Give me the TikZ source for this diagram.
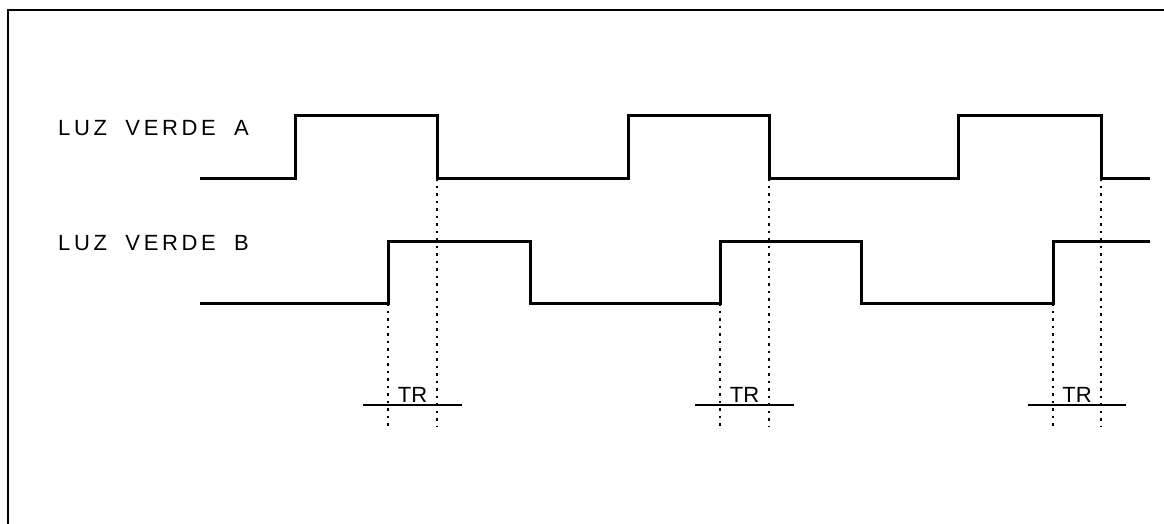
\documentclass[tikz,border=0pt]{standalone}
\usepackage{fontspec}
\setmainfont{Liberation Sans}
\begin{document}
\begin{tikzpicture}[x=1pt,y=-1pt,
  sig/.style={line width=3pt,line join=miter},
  frame/.style={line width=2pt},
  vdash/.style={line width=2.4pt,dash pattern=on 2.5pt off 5pt},
  base/.style={line width=1.8pt},
  lbl/.style={font=\fontsize{22}{25}\selectfont,anchor=west,inner sep=0pt},
  trl/.style={font=\fontsize{22}{25}\selectfont,inner sep=0pt,anchor=base}]
\useasboundingbox (0,0) rectangle (1164,524);
\fill[white] (0,0) rectangle (1164,524);
% frame
\draw[frame] (8,524) -- (8,10) -- (1164,10);
% labels
\node[lbl] (la) at (58,128) {L\,U\,Z \ \ V\,E\,R\,D\,E \ \ A};
\node[lbl] (lb) at (58,243) {L\,U\,Z \ \ V\,E\,R\,D\,E \ \ B};
% signal A
\draw[sig] (200,178) -- (295,178) -- (295,116) -- (437,116) -- (437,178)
  -- (628,178) -- (628,116) -- (769,116) -- (769,178)
  -- (958,178) -- (958,116) -- (1101,116) -- (1101,178) -- (1150,178);
% signal B
\draw[sig] (200,303) -- (388,303) -- (388,241) -- (530,241) -- (530,303)
  -- (720,303) -- (720,241) -- (861,241) -- (861,303)
  -- (1053,303) -- (1053,241) -- (1150,241);
% TR markers
\foreach \xa/\xb/\n in {388/437/1,720/769/2,1053/1101/3}{
  \coordinate (s\n) at (\xa,303);
  \coordinate (e\n) at (\xb,178);
  \coordinate (sb\n) at (\xa,426);
  \coordinate (eb\n) at (\xb,426);
  \draw[vdash] (s\n) -- (sb\n);
  \draw[vdash] (e\n) -- (eb\n);
  \coordinate (bl\n) at (\xa-25,405);
  \coordinate (br\n) at (\xb+25,405);
  \draw[base] (bl\n) -- (br\n);
  \node[trl] (tr\n) at ({(\xa+\xb)/2},402) {TR};
}
\end{tikzpicture}
\end{document}
